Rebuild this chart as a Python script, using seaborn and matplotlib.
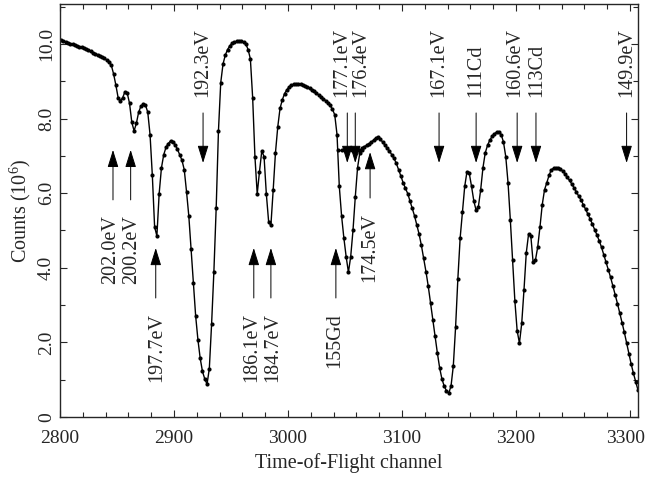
import numpy as np
import matplotlib
matplotlib.use("Agg")
import matplotlib.pyplot as plt
import matplotlib.transforms as mtransforms
import seaborn as sns

# --------------------------- DATA ---------------------------
channel = np.arange(2801, 3309, 2)
counts = [
    10.1, 10.08, 10.06, 10.03, 10.01, 9.99, 9.97, 9.95, 9.93, 9.91,
    9.89, 9.86, 9.83, 9.8, 9.77, 9.74, 9.71, 9.68, 9.65, 9.61,
    9.57, 9.51, 9.43, 9.2, 8.9, 8.56, 8.48, 8.56, 8.72, 8.68,
    8.41, 7.9, 7.67, 7.87, 8.17, 8.33, 8.38, 8.36, 8.17, 7.57,
    6.48, 5.1, 4.85, 5.99, 6.68, 7.03, 7.23, 7.33, 7.4, 7.38,
    7.3, 7.18, 7.03, 6.88, 6.63, 6.04, 5.39, 4.5, 3.6, 2.71,
    2.07, 1.57, 1.22, 1.02, 0.88, 1.3, 2.5, 3.9, 5.59, 7.67,
    8.96, 9.46, 9.7, 9.85, 9.95, 10.02, 10.05, 10.07, 10.08, 10.07,
    10.05, 10.0, 9.85, 9.6, 8.56, 6.98, 5.98, 6.58, 7.13, 6.98,
    5.98, 5.24, 5.14, 6.08, 7.08, 7.77, 8.27, 8.5, 8.67, 8.77,
    8.85, 8.9, 8.92, 8.93, 8.93, 8.92, 8.9, 8.88, 8.85, 8.81,
    8.77, 8.73, 8.68, 8.63, 8.58, 8.53, 8.48, 8.43, 8.35, 8.25,
    8.1, 7.57, 6.18, 5.39, 4.8, 4.3, 3.88, 4.3, 5.0, 5.89,
    6.68, 7.08, 7.2, 7.25, 7.28, 7.32, 7.37, 7.42, 7.48, 7.5,
    7.45, 7.37, 7.29, 7.21, 7.13, 7.03, 6.93, 6.8, 6.63, 6.46,
    6.28, 6.13, 5.99, 5.79, 5.59, 5.39, 5.14, 4.9, 4.6, 4.25,
    3.9, 3.51, 3.06, 2.61, 2.17, 1.72, 1.32, 1.02, 0.83, 0.7,
    0.64, 0.83, 1.37, 2.41, 3.71, 4.8, 5.49, 6.18, 6.58, 6.53,
    6.18, 5.79, 5.54, 5.64, 6.09, 6.68, 7.08, 7.28, 7.42, 7.52,
    7.59, 7.64, 7.64, 7.57, 7.37, 6.98, 6.28, 5.29, 4.2, 3.11,
    2.31, 1.98, 2.51, 3.41, 4.4, 4.9, 4.85, 4.15, 4.2, 4.55,
    5.09, 5.69, 6.09, 6.28, 6.48, 6.63, 6.67, 6.68, 6.67, 6.65,
    6.59, 6.52, 6.42, 6.34, 6.24, 6.14, 6.03, 5.92, 5.82, 5.69,
    5.57, 5.44, 5.31, 5.17, 5.02, 4.88, 4.72, 4.55, 4.35, 4.15,
    3.95, 3.74, 3.51, 3.28, 3.04, 2.79, 2.53, 2.27, 1.99, 1.7,
    1.42, 1.17, 0.95, 0.72,
]

# short flat piece drawn across the 155Gd dip
shoulder_x = [3044, 3047, 3050, 3053, 3056, 3059, 3062, 3065]
shoulder_y = [7.16, 7.16, 7.16, 7.16, 7.16, 7.16, 7.16, 7.16]

# resonance labels: pointing down from above the curve
down_labels = ["192.3eV", "177.1eV", "176.4eV", "167.1eV", "111Cd", "160.6eV", "113Cd", "149.9eV"]
down_arrow_x = [2925.5, 3052, 3059, 3132.5, 3165, 3201, 3217.5, 3297]
down_text_x = [2925.5, 3047, 3064, 3132.5, 3165, 3199, 3218, 3297]

# pointing up from below the curve
up_labels = ["202.0eV", "200.2eV", "197.7eV", "186.1eV", "184.7eV", "155Gd", "174.5eV"]
up_arrow_x = [2846.5, 2862, 2884, 2970, 2985, 3042, 3072]
up_text_x = [2844, 2863, 2885, 2968, 2987, 3041, 3072]
up_tip_y = [7.16, 7.16, 4.53, 4.53, 4.53, 4.53, 7.1]
up_tail_y = [5.82, 5.82, 3.19, 3.19, 3.19, 3.19, 5.87]

yticks = [0, 2, 4, 6, 8, 10]
ytick_labels = ["0", "2.0", "4.0", "6.0", "8.0", "10.0"]
xticks = [2800, 2900, 3000, 3100, 3200, 3300]

# --------------------------- SETTINGS ---------------------------
sns.set_style("ticks")
plt.rcParams["font.family"] = ["Liberation Serif", "DejaVu Serif"]
plt.rcParams["mathtext.fontset"] = "custom"
plt.rcParams["mathtext.rm"] = "Liberation Serif"
plt.rcParams["mathtext.it"] = "Liberation Serif:italic"

fig = plt.figure(figsize=(6.47, 4.78), dpi=100)
ax = fig.add_axes([0.0927, 0.1276, 0.8934, 0.864])

sns.lineplot(x=channel, y=counts, ax=ax, color="black", linewidth=1.0,
             marker="o", markersize=3.0, markeredgewidth=0, estimator=None, sort=False)
ax.plot(shoulder_x, shoulder_y, color="black", linewidth=1.0,
        marker="o", markersize=3.0, markeredgewidth=0)

arrow_kw = dict(arrowstyle="-|>,head_length=0.9,head_width=0.28", color="black",
                lw=0.7, shrinkA=0, shrinkB=0, mutation_scale=12)
fs = 14.5

for lab, ax_x, tx in zip(down_labels, down_arrow_x, down_text_x):
    ax.annotate("", xy=(ax_x, 6.81), xytext=(ax_x, 8.15), arrowprops=arrow_kw)
    ax.text(tx, 8.58, lab, rotation=90, ha="center", va="bottom", fontsize=fs)

for lab, ax_x, tx, tip, tail in zip(up_labels, up_arrow_x, up_text_x, up_tip_y, up_tail_y):
    ax.annotate("", xy=(ax_x, tip), xytext=(ax_x, tail), arrowprops=arrow_kw)
    ax.text(tx, tail - 0.4, lab, rotation=90, ha="center", va="top", fontsize=fs)

ax.set_xlim(2800, 3307)
ax.set_ylim(0, 11.07)
ax.set_xticks(xticks)
ax.set_xticks(np.arange(2800, 3307, 20), minor=True)
ax.set_yticks(yticks)
ax.set_yticklabels(ytick_labels, rotation=90, va="center")
ax.set_yticks(np.arange(0, 11.07, 1), minor=True)
ax.tick_params(which="both", direction="in", top=True, right=True, labelsize=14, width=0.8)
ax.tick_params(which="major", length=5)
ax.tick_params(which="minor", length=3.5)
ax.tick_params(axis="x", pad=9)
for s in ax.spines.values():
    s.set_linewidth(1.0)

# last x tick label sits against the figure edge, nudge it in a little
last = ax.get_xticklabels()[-1]
last.set_transform(last.get_transform() + mtransforms.ScaledTranslation(-4 / 100, 0, fig.dpi_scale_trans))

ax.set_xlabel("Time-of-Flight channel", fontsize=fs, labelpad=5)
ax.set_ylabel("Counts (10$^{6}$)", fontsize=fs, labelpad=4)

fig.savefig("out.png", dpi=100)
